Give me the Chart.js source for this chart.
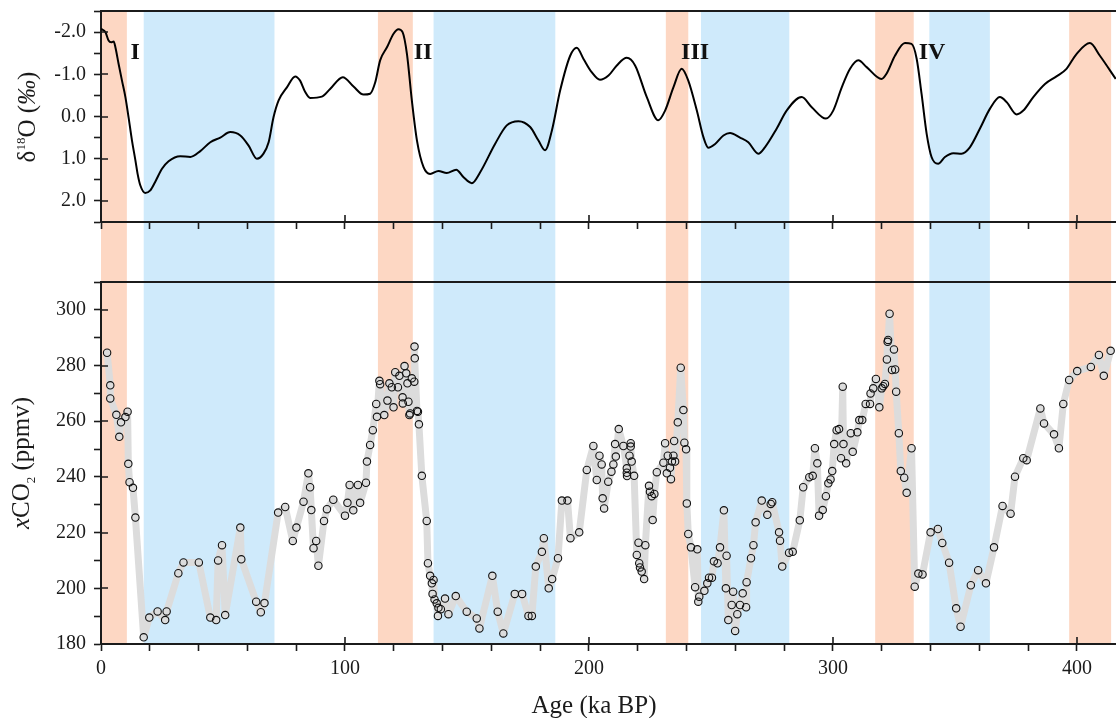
<!DOCTYPE html>
<html>
<head>
<meta charset="utf-8">
<script src="https://cdn.jsdelivr.net/npm/chart.js@4.4.0/dist/chart.umd.min.js"></script>
<style>
  body { margin: 0; background: #fff; }
  #wrap { position: relative; width: 1116px; height: 718px; overflow: hidden; font-family: "Liberation Serif", "Times New Roman", serif; }
  canvas { position: absolute; left: 0; }
  #topChart { top: 0; }
  #botChart { top: 272px; }
  .ytitle { position: absolute; transform: translate(-50%, -50%) rotate(-90deg); white-space: nowrap; font-size: 25px; line-height: 1; color: #1b1b1b; }
  .ytitle sup, .ytitle sub { font-size: 13px; }
  .xtitle { position: absolute; transform: translate(-50%, -50%); white-space: nowrap; font-size: 25px; line-height: 1; color: #1b1b1b; }
</style>
</head>
<body>
<div id="wrap">
  <canvas id="topChart" width="1116" height="282"></canvas>
  <canvas id="botChart" width="1116" height="446"></canvas>
  <div class="ytitle" style="left:26px; top:117px">δ<sup>18</sup>O (<i>‰</i>)</div>
  <div class="ytitle" style="left:22px; top:463px"><i>x</i>CO<sub>2</sub> (ppmv)</div>
  <div class="xtitle" style="left:594px; top:704px">Age (ka BP)</div>
</div>
<script>
// benthic d18O stack (ka BP, per mil)
const d18oAge = [0, 1.8, 3.1, 4.2, 5.2, 5.9, 7.2, 8.6, 10, 11.3, 12.7, 14.1, 15, 16.1, 18.1, 20.2, 22.2, 25, 27.7, 32.5,
  36.6, 40.7, 44.8, 48.9, 53, 57.1, 60.5, 63.9, 66.6, 68.7, 70.7, 72.8, 76.2, 79.6, 81.6, 83.7, 85.7, 90.5, 93.9, 99.1,
  103.5, 107.6, 110.3, 112.4, 114.4, 117.2, 119.9, 121.9, 123.6, 125.4, 127.4, 129.5, 132.2, 134.9, 138.3, 141.7, 145.6, 148.6, 152, 155.4,
  161.5, 166.3, 171.1, 175.9, 179.3, 182, 184.8, 188.2, 192.3, 195, 197.7, 201.1, 204.5, 208, 211.4, 215.5, 218.9, 223.7, 228.4, 231.2,
  234.6, 238, 240.7, 244.2, 246.9, 248.9, 251.7, 255.1, 257.8, 261.9, 265.3, 269.4, 272.1, 276.9, 281, 287.2, 291.3, 297.1, 300.1, 303.6,
  307, 310.4, 313.8, 319.9, 322, 325.4, 329.5, 332.2, 334.3, 336.3, 338.4, 340.4, 343.1, 345.9, 349.3, 352.7, 356.1, 360.2, 364.3, 368.4,
  371.2, 375.3, 378, 382.1, 386.9, 391.6, 395.7, 399.8, 405.3, 409.4, 415.9];
const d18oValue = [-2.08, -2.0, -1.8, -1.76, -1.78, -1.64, -1.25, -0.85, -0.46, 0.02, 0.57, 1.04, 1.36, 1.63, 1.81, 1.75, 1.55, 1.24, 1.06, 0.94,
  0.96, 0.82, 0.61, 0.5, 0.37, 0.45, 0.69, 1.0, 0.88, 0.61, 0.02, -0.38, -0.69, -0.95, -0.85, -0.58, -0.44, -0.47, -0.65, -0.93,
  -0.71, -0.52, -0.54, -0.81, -1.33, -1.64, -1.96, -2.07, -2.0, -1.48, -0.38, 0.57, 1.2, 1.36, 1.29, 1.34, 1.26, 1.44, 1.58, 1.32,
  0.65, 0.21, 0.11, 0.25, 0.57, 0.8, 0.33, -0.62, -1.44, -1.63, -1.37, -1.05, -0.87, -0.97, -1.21, -1.39, -1.21, -0.46, 0.09, -0.14,
  -0.69, -1.13, -0.85, -0.14, 0.49, 0.74, 0.65, 0.45, 0.39, 0.5, 0.61, 0.88, 0.73, 0.29, -0.14, -0.46, -0.22, 0.05, -0.14, -0.69,
  -1.13, -1.33, -1.17, -0.89, -1.02, -1.44, -1.74, -1.72, -1.37, -0.54, 0.41, 0.96, 1.12, 0.96, 0.87, 0.88, 0.73, 0.29, -0.18, -0.46,
  -0.34, -0.05, -0.14, -0.46, -0.77, -0.95, -1.13, -1.48, -1.74, -1.44, -0.89];

// ice core CO2 (ka BP, ppmv)
const co2Age = [2.5, 3.8, 3.8, 6.3, 7.5, 8.2, 10, 10.9, 11.2, 11.7, 13.1, 14.1, 17.5, 19.8, 23.2, 26.3, 26.9, 31.7, 33.8, 40.1,
  44.8, 47.2, 48, 49.6, 50.9, 57.1, 57.5, 63.6, 65.5, 67, 72.6, 75.5, 78.6, 80.1, 83, 85, 85.7, 86.2, 87.1, 88.2,
  89.1, 91.4, 92.6, 95.2, 100, 101, 101.9, 103.4, 105.3, 106.2, 108.6, 109, 110.3, 111.4, 112.8, 113.1, 114.1, 114.4, 116.1, 117.4,
  118.2, 119.2, 119.9, 120.6, 121.7, 122.3, 123.6, 123.7, 124.4, 125.1, 125.6, 126, 126.4, 126.7, 127.4, 128.4, 128.5, 128.6, 129.5, 129.9,
  130.3, 131.5, 133.5, 134, 134.9, 135.6, 135.9, 136.3, 136.7, 137.6, 138.1, 138.3, 139.3, 141, 142.4, 145.4, 149.9, 154, 155.1, 160.4,
  162.6, 164.9, 169.6, 172.6, 175.2, 176.6, 178.2, 180.7, 181.5, 183.5, 184.9, 187.3, 188.9, 191.2, 192.4, 196, 199.1, 201.8, 203.2, 204.3,
  205.2, 205.6, 206.2, 207.9, 209.2, 210, 210.7, 211, 212.2, 214.1, 215.5, 215.5, 215.6, 216.6, 217.1, 217.1, 217.5, 218.5, 219.6, 220.3,
  220.6, 220.9, 221.6, 222.6, 223.1, 224.6, 225, 225.7, 226.1, 226.8, 227.8, 230.5, 231.2, 231.9, 232.3, 233.2, 233.6, 234, 234.6, 234.9,
  235.3, 236.4, 237.6, 238.7, 239.1, 239.8, 240.1, 240.7, 241.8, 243.5, 244.4, 244.8, 245.2, 247.3, 248.5, 249.2, 250.4, 251.2, 252.7, 253.7,
  255.3, 256.1, 256.4, 257.1, 258.5, 259.1, 259.9, 260.8, 261.9, 263, 264.4, 264.6, 266.4, 267.4, 268.3, 270.8, 273.1, 274.5, 275.1, 277.9,
  278.3, 279.2, 282, 283.5, 286.4, 287.8, 290.3, 291.7, 292.6, 293.6, 294.3, 295.8, 297.1, 298.1, 299, 299.7, 300.5, 301.5, 302.5, 303.3,
  304, 304.3, 305.4, 307.3, 308.1, 310, 310.8, 312, 313.4, 315.2, 315.4, 316.5, 317.6, 319, 320, 320.6, 321.3, 322.1, 322.4, 322.6,
  323.2, 324.2, 325, 325.5, 325.9, 327, 327.8, 329.2, 330.2, 332.2, 333.5, 335, 336.7, 340, 343, 344.8, 347.6, 350.5, 352.3, 356.5,
  359.5, 362.7, 366, 369.5, 372.8, 374.6, 378, 379.4, 385, 386.5, 390.6, 392.6, 394.4, 396.8, 400.1, 405.7, 409, 411, 413.8];
const co2Value = [284.6, 272.9, 268.2, 262.3, 254.4, 259.6, 261.5, 263.4, 244.7, 238.1, 236.1, 225.4, 182.4, 189.5, 191.7, 188.6, 191.7, 205.4, 209.3, 209.3,
  189.5, 188.6, 210, 215.5, 190.4, 221.8, 210.4, 195.2, 191.4, 194.7, 227.2, 229.2, 217, 221.8, 231.1, 241.3, 236.3, 228.1, 214.4, 217,
  208.1, 224.2, 228.4, 231.8, 226.1, 230.7, 237.1, 228, 237.1, 230.7, 237.9, 245.5, 251.5, 256.8, 266.2, 261.6, 274.5, 273.3, 262.2, 267.4,
  273.6, 272.2, 265, 277.6, 272.2, 276.3, 268.6, 266.4, 279.8, 277.2, 273.6, 267, 262.2, 262.8, 275.4, 274.2, 286.8, 282.6, 263.7, 263.4,
  258.9, 240.4, 224.2, 209, 204.5, 201.8, 198, 203, 196, 194.6, 190.1, 193, 192.5, 196.3, 190.7, 197.2, 191.6, 189.2, 185.6, 204.5,
  191.6, 183.8, 198, 198, 190.1, 190.1, 207.8, 213.1, 218, 200, 203.3, 210.8, 231.5, 231.5, 218, 220.1, 242.5, 251.1, 238.9, 247.6,
  244.5, 232.3, 228.7, 238.3, 241.9, 244.5, 251.8, 247.3, 257.2, 251.1, 243.1, 241.5, 240.3, 247.6, 252.1, 250.9, 245.5, 240.4, 212, 216.4,
  209, 207.5, 206, 203.3, 215.5, 236.8, 234.7, 233.1, 224.5, 233.9, 241.7, 245.1, 252.1, 241.3, 247.6, 243.3, 239.2, 245.5, 247.6, 252.9,
  245.5, 259.6, 279.2, 264, 252.3, 249.9, 230.5, 219.5, 214.7, 200.4, 214, 195.2, 197, 199.1, 201.8, 203.8, 203.8, 209.7, 209, 214.7,
  228, 200, 211.7, 188.6, 194, 198.8, 184.7, 190.7, 194, 198.2, 193.2, 202.2, 210.8, 215.5, 223.7, 231.5, 226.4, 230.3, 230.9, 220.1,
  217.1, 207.8, 212.8, 213.1, 224.4, 236.3, 239.9, 240.4, 250.3, 244.9, 226.1, 228.1, 233.1, 237.7, 239.1, 242.1, 251.8, 256.8, 257.2, 246.7,
  272.4, 251.8, 244.9, 255.7, 249, 256, 260.4, 260.4, 266.2, 266.2, 270, 271.8, 275.2, 265, 271.8, 272.6, 273.4, 282.2, 288.5, 289.2,
  298.6, 278.4, 285.8, 278.6, 270.6, 255.7, 242.1, 239.7, 234.3, 250.3, 200.6, 205.3, 205, 220.1, 221.3, 216.3, 209.2, 192.8, 186.2, 201.1,
  206.5, 201.8, 214.7, 229.6, 226.8, 240.1, 246.7, 246, 264.6, 259.2, 255.3, 250.3, 266.2, 274.8, 278, 279.5, 283.8, 276.3, 285.3];

// shaded intervals (ka BP)
const warmStart = [0, 113.5, 231.5, 317.3, 396.8];
const warmEnd = [10.6, 127.8, 240.7, 333.1, 414];
const coldStart = [17.5, 136.3, 245.9, 339.5];
const coldEnd = [71.1, 186.2, 282.1, 364.3];

// termination labels
const stageNames = ['I', 'II', 'III', 'IV'];
const stageAge = [14, 132, 243.5, 340.6];
const stageLevel = -1.5;

const ageLabels = [0, 100, 200, 300, 400];

const ink = '#1b1b1b';
const warmColor = '#fdd7c3';
const coldColor = '#cfeafb';
const serif = '"Liberation Serif", "Times New Roman", serif';
Chart.defaults.font.family = serif;

// shaded bands behind everything
const bandsPlugin = {
    id: 'bands',
    beforeDraw(chart, args, opts) {
        const { ctx, chartArea, scales: { x } } = chart;
        const top = chartArea.top;
        const bottom = opts.toCanvasBottom ? chart.height : chartArea.bottom;
        ctx.save();
        const fillBand = (s, e, color) => {
            const x0 = x.getPixelForValue(s);
            const x1 = x.getPixelForValue(e);
            ctx.fillStyle = color;
            ctx.fillRect(x0, top, x1 - x0, bottom - top);
        };
        warmStart.forEach((s, i) => fillBand(s, warmEnd[i], warmColor));
        coldStart.forEach((s, i) => fillBand(s, coldEnd[i], coldColor));
        ctx.restore();
    }
};

// top border + inner half of the major ticks
const framePlugin = {
    id: 'frame',
    afterDatasetsDraw(chart, args, opts) {
        const { ctx, chartArea: ca, scales: { x, y } } = chart;
        const isMajor = (v, step) => Math.abs(v / step - Math.round(v / step)) < 1e-6;
        ctx.save();
        ctx.strokeStyle = ink;
        ctx.lineWidth = 2;
        ctx.beginPath();
        ctx.moveTo(ca.left, ca.top);
        ctx.lineTo(ca.right, ca.top);
        ctx.stroke();
        ctx.lineWidth = 1.6;
        ctx.beginPath();
        x.ticks.forEach(t => {
            if (!isMajor(t.value, opts.xMajor)) return;
            const px = Math.round(x.getPixelForValue(t.value));
            ctx.moveTo(px, ca.bottom);
            ctx.lineTo(px, ca.bottom - 7);
        });
        y.ticks.forEach(t => {
            if (!isMajor(t.value, opts.yMajor)) return;
            const py = Math.round(y.getPixelForValue(t.value));
            ctx.moveTo(ca.left, py);
            ctx.lineTo(ca.left + 7, py);
        });
        ctx.stroke();
        ctx.restore();
    }
};

// roman numerals on the d18O panel
const stagePlugin = {
    id: 'stages',
    afterDatasetsDraw(chart) {
        const { ctx, scales: { x, y } } = chart;
        ctx.save();
        ctx.fillStyle = '#111';
        ctx.font = 'bold 24px ' + serif;
        ctx.textAlign = 'center';
        ctx.textBaseline = 'middle';
        stageNames.forEach((name, i) => {
            ctx.fillText(name, x.getPixelForValue(stageAge[i]), y.getPixelForValue(stageLevel));
        });
        ctx.restore();
    }
};

// fixed axis boxes so both panels line up
function fixBox(size) {
    return s => {
        if (s.isHorizontal()) s.height = size; else s.width = size;
        s.paddingTop = 0; s.paddingBottom = 0; s.paddingLeft = 0; s.paddingRight = 0;
    };
}

const gridLook = { drawOnChartArea: false, tickLength: 7, tickColor: ink, tickWidth: 1.6 };
const borderLook = { color: ink, width: 2 };
const tickFont = { family: serif, size: 20 };

// upper panel: d18O
new Chart(document.getElementById('topChart'), {
    type: 'line',
    data: {
        datasets: [{
            data: d18oAge.map((a, i) => ({ x: a, y: d18oValue[i] })),
            borderColor: '#000',
            borderWidth: 2,
            pointRadius: 0,
            cubicInterpolationMode: 'monotone',
            fill: false
        }]
    },
    options: {
        responsive: false,
        animation: false,
        layout: { autoPadding: false, padding: { top: 11, left: 0, right: 0, bottom: 0 } },
        plugins: {
            legend: { display: false },
            tooltip: { enabled: false },
            bands: { toCanvasBottom: true },
            frame: { xMajor: 100, yMajor: 1 }
        },
        scales: {
            x: {
                type: 'linear', min: 0, max: 416,
                afterFit: fixBox(60),
                grid: gridLook, border: borderLook,
                ticks: { stepSize: 20, includeBounds: false, autoSkip: false, maxRotation: 0, callback: () => '' }
            },
            y: {
                type: 'linear', reverse: true, min: -2.5, max: 2.5,
                afterFit: fixBox(101),
                grid: gridLook, border: borderLook,
                ticks: {
                    stepSize: 0.5, autoSkip: false, padding: 8, font: tickFont, color: ink,
                    callback: v => Number.isInteger(v) ? v.toFixed(1) : ''
                }
            }
        }
    },
    plugins: [bandsPlugin, framePlugin, stagePlugin]
});

// lower panel: CO2
new Chart(document.getElementById('botChart'), {
    type: 'line',
    data: {
        datasets: [{
            data: co2Age.map((a, i) => ({ x: a, y: co2Value[i] })),
            borderColor: '#dcdcdc',
            borderWidth: 7,
            borderJoinStyle: 'round',
            borderCapStyle: 'round',
            tension: 0,
            pointRadius: 3.7,
            pointBorderWidth: 1.1,
            pointBorderColor: '#111',
            pointBackgroundColor: 'rgba(255,255,255,0)',
            fill: false
        }]
    },
    options: {
        responsive: false,
        animation: false,
        layout: { autoPadding: false, padding: { top: 10, left: 0, right: 0, bottom: 0 } },
        plugins: {
            legend: { display: false },
            tooltip: { enabled: false },
            bands: { toCanvasBottom: false },
            frame: { xMajor: 100, yMajor: 20 }
        },
        scales: {
            x: {
                type: 'linear', min: 0, max: 416,
                afterFit: fixBox(74),
                grid: gridLook, border: borderLook,
                ticks: {
                    stepSize: 20, includeBounds: false, autoSkip: false, maxRotation: 0, padding: 6,
                    font: tickFont, color: ink,
                    callback: v => ageLabels.includes(v) ? String(v) : ''
                }
            },
            y: {
                type: 'linear', min: 180, max: 310,
                afterFit: fixBox(101),
                grid: gridLook, border: borderLook,
                ticks: {
                    stepSize: 10, autoSkip: false, padding: 8, font: tickFont, color: ink,
                    callback: v => v % 20 === 0 ? String(v) : ''
                }
            }
        }
    },
    plugins: [bandsPlugin, framePlugin]
});
</script>
</body>
</html>
